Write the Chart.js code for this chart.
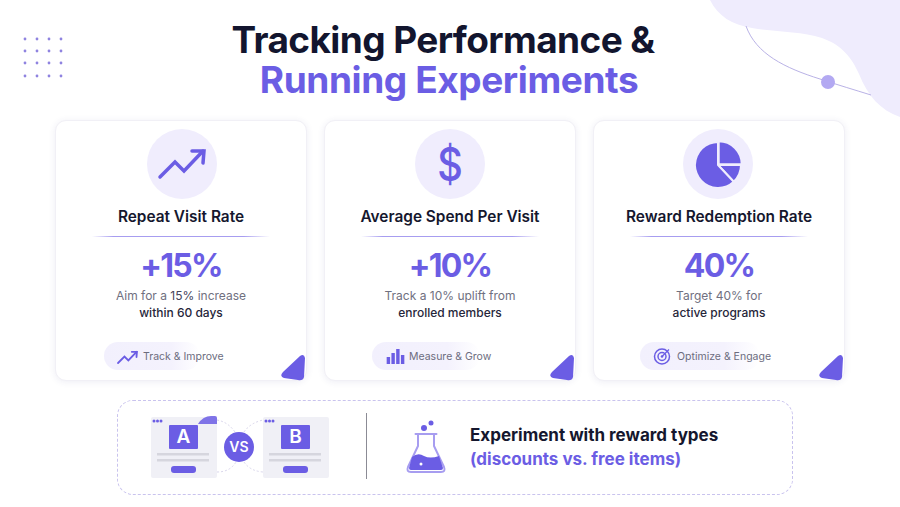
<!DOCTYPE html>
<html>
<head>
<meta charset="utf-8">
<title>Tracking Performance & Running Experiments</title>
<script src="https://cdn.jsdelivr.net/npm/chart.js@4"></script>
<style>
  html, body { margin: 0; padding: 0; background: #fff; }
  #page { position: relative; width: 900px; height: 507px; overflow: hidden; font-family: Inter, sans-serif; background: #fff; }
  #page > * { position: absolute; }
  #art { left: 0; top: 0; z-index: 1; }
  .heading { width: 888px; text-align: center; font-weight: 700; font-size: 37px; line-height: 34px; white-space: nowrap; }
  .card { width: 250px; height: 259px; top: 120px; border: 1px solid #f1f0f6; border-radius: 11px; box-shadow: 0 1px 7px rgba(60, 50, 130, 0.09); background: #fff; }
  .bubble { width: 70px; height: 70px; top: 129px; border-radius: 50%; background: #f0edfd; }
  .metric { width: 252px; text-align: center; white-space: nowrap; }
  .metric-title { top: 207px; font-size: 15.4px; line-height: 20px; font-weight: 600; color: #15172e; }
  .metric-rule { top: 236px; height: 1px; width: 178px; background: linear-gradient(90deg, #ffffff, #a79df0 12%, #a79df0 85%, #ffffff); }
  .metric-value { top: 246px; font-size: 32px; line-height: 40px; font-weight: 700; letter-spacing: -1.8px; color: #6b5de4; }
  .metric-note { font-size: 12px; line-height: 16px; color: #70707f; }
  .metric-note b { font-weight: 500; color: #26263a; }
  .metric-note i { font-style: normal; color: #45455a; }
  .pill { top: 342px; height: 28px; border-radius: 14px; background: linear-gradient(90deg, #f2f0fd, #f4f2fd 70%, #ffffff); }
  .pill-text { top: 350px; font-size: 10.5px; line-height: 14px; color: #6c6c7e; white-space: nowrap; }
  .dollar { top: 136px; width: 70px; text-align: center; font-size: 46px; line-height: 56px; font-weight: 500; color: #6b5de4; transform: scaleX(0.86); }
  .panel { left: 117px; top: 400px; width: 674px; height: 93px; border: 1px dashed #c9c3ee; border-radius: 16px; }
  .ab { font-weight: 600; color: #fff; text-align: center; z-index: 2; }
  .callout { left: 470px; font-size: 17px; line-height: 24px; font-weight: 700; white-space: nowrap; }
</style>
</head>
<body>
<div id="page">
  <div class="heading" style="left: -1px; top: 23px; letter-spacing: -0.6px; color: #12152e;">Tracking Performance &amp;</div>
  <div class="heading" style="left: 5px; top: 63px; letter-spacing: -0.4px; color: #6b5de4;">Running Experiments</div>
  <div class="panel"></div>
  <svg id="art" width="900" height="507"></svg>
  <div class="ab" style="left:169px;top:425px;width:29px;font-size:19px;line-height:24px;">A</div>
  <div class="ab" style="left:281px;top:425px;width:29px;font-size:19px;line-height:24px;">B</div>
  <div class="ab" style="left:224px;top:438px;width:30px;font-size:14px;line-height:18px;">VS</div>
  <div class="callout" style="top: 423px; color: #15172e;">Experiment with reward types</div>
  <div class="callout" style="top: 447px; color: #6b5de4;">(discounts vs. free items)</div>
</div>

<script>
'use strict';

// ************ DATA

const metricTitles = ['Repeat Visit Rate', 'Average Spend Per Visit', 'Reward Redemption Rate'];
const metricValues = ['+15%', '+10%', '40%'];
const noteFirstLines = ['Aim for a <i>15%</i> increase', 'Track a 10% uplift from', 'Target 40% for'];
const noteSecondLines = ['within 60 days', 'enrolled members', 'active programs'];
const pillLabels = ['Track & Improve', 'Measure & Grow', 'Optimize & Engage'];

// trend icon: zigzag line and its arrow head
const trendX = [0, 15, 24, 43];
const trendY = [0, 15, 6, 26];
const arrowX = [32, 44, 43];
const arrowY = [26, 26, 14];

// bar icon
const barLabels = ['a', 'b', 'c', 'd'];
const barValues = [7, 11, 15, 9];

// pie icon
const pieLabels = ['top right', 'lower right', 'rest'];
const pieValues = [25, 13, 62];

// ************ COLOURS AND LAYOUT

const purple = '#6b5de4';
const cardLeft = [55, 324, 593];
const bubbleLeft = [147, 415, 683];
const page = document.getElementById('page');
const art = document.getElementById('art');

function addDiv(className, left, top, html) {
  let div = document.createElement('div');
  div.className = className;
  div.style.left = left + 'px';
  if (top !== null) {
    div.style.top = top + 'px';
  }
  div.innerHTML = html;
  page.appendChild(div);
  return div;
}

function addCanvas(left, top, width, height) {
  let canvas = document.createElement('canvas');
  canvas.width = width;
  canvas.height = height;
  canvas.style.left = left + 'px';
  canvas.style.top = top + 'px';
  canvas.style.width = width + 'px';
  canvas.style.height = height + 'px';
  canvas.style.zIndex = 2;
  page.appendChild(canvas);
  return canvas;
}

function toPoints(xs, ys) {
  return xs.map((x, i) => ({ x: x, y: ys[i] }));
}

// options shared by all icon charts: no axes, no legend, no motion
function iconOptions(scales) {
  return {
    responsive: false,
    animation: false,
    events: [],
    layout: { padding: 0 },
    plugins: { legend: { display: false }, tooltip: { enabled: false } },
    scales: scales
  };
}

function drawTrend(left, top, size, range, width) {
  new Chart(addCanvas(left, top, size, size), {
    type: 'scatter',
    data: {
      datasets: [
        { data: toPoints(trendX, trendY) },
        { data: toPoints(arrowX, arrowY) }
      ].map((set) => ({
        ...set,
        showLine: true,
        borderColor: purple,
        borderWidth: width,
        borderCapStyle: 'round',
        borderJoinStyle: 'miter',
        pointRadius: 0,
        clip: false
      }))
    },
    options: iconOptions({
      x: { display: false, min: range[0], max: range[1] },
      y: { display: false, min: range[2], max: range[3] }
    })
  });
}

// ************ CARDS

for (let i = 0; i < metricTitles.length; i++) {
  let left = cardLeft[i];
  addDiv('card', left, null, '');
  addDiv('bubble', bubbleLeft[i], null, '');
  addDiv('metric metric-title', left, null, metricTitles[i]);
  addDiv('metric-rule', left + 37, null, '');
  addDiv('metric metric-value', left, null, metricValues[i]);
  addDiv('metric metric-note', left, 288, noteFirstLines[i]);
  addDiv('metric metric-note', left, 305, '<b>' + noteSecondLines[i] + '</b>');
}

addDiv('pill', 104, null, '').style.width = '96px';
addDiv('pill', 372, null, '').style.width = '108px';
addDiv('pill', 640, null, '').style.width = '120px';
addDiv('pill-text', 143, null, pillLabels[0].replace('&', '&amp;'));
addDiv('pill-text', 409, null, pillLabels[1].replace('&', '&amp;'));
addDiv('pill-text', 677, null, pillLabels[2].replace('&', '&amp;'));
addDiv('dollar', 415, null, '$');

// ************ DECORATION (shapes, not data)

let shapes = '';

// blob and thin curve in the top right corner
shapes += '<path d="M710 0 C718 16 732 25 752 28 C775 32 800 31 822 38 C842 45 852 58 859 74 C868 96 880 110 900 117 L900 0 Z" fill="#efecfd"/>';
shapes += '<path d="M746 26 C756 54 785 68 820 79 C838 85 855 90 871 95" fill="none" stroke="#b9b2e6" stroke-width="1"/>';
shapes += '<circle cx="828" cy="82" r="7" fill="#b3a9f2"/>';

// dot grid top left
[25, 37, 49, 61].forEach((x) => {
  [39, 51, 63, 76].forEach((y) => {
    shapes += `<circle cx="${x}" cy="${y}" r="1.4" fill="#8f83e0"/>`;
  });
});

// folded corners on the cards
cardLeft.forEach((left) => {
  let d = left - 55;
  shapes += `<path d="M${283 + d} 372 L${300 + d} 356 Q${304 + d} 353 ${305 + d} 358 L${304 + d} 377 Q${303 + d} 381 ${298 + d} 380 L${284 + d} 378 Q${279 + d} 376 ${283 + d} 372 Z" fill="${purple}"/>`;
});

// target icon in the third pill
shapes += `<circle cx="662" cy="356.500" r="7.500" fill="none" stroke="${purple}" stroke-width="1.500"/>`;
shapes += `<circle cx="662" cy="356.500" r="4" fill="none" stroke="${purple}" stroke-width="1.500"/>`;
shapes += `<circle cx="662" cy="356.500" r="1.300" fill="${purple}"/>`;
shapes += `<path d="M662 356.500 L669 349.500" stroke="${purple}" stroke-width="1.300"/>`;

// A and B windows
shapes += '<g fill="none" stroke="#cfcbe6" stroke-width="0.800" stroke-dasharray="2 2">';
shapes += '<path d="M217 420 Q228 422 235 432"/><path d="M244 432 Q250 423 263 420"/>';
shapes += '<path d="M217 472 Q230 472 236 462"/><path d="M244 462 Q250 471 263 472"/></g>';
[151, 263].forEach((x, i) => {
  shapes += `<rect x="${x}" y="417" width="66" height="61" rx="2" fill="#f0f0f6"/>`;
  shapes += `<rect x="${x + 18}" y="425" width="29" height="24" rx="1" fill="${purple}"/>`;
  shapes += `<rect x="${x + 6}" y="453" width="52" height="2.500" fill="#d6d6de"/>`;
  shapes += `<rect x="${x + 6}" y="459" width="52" height="2.500" fill="#d6d6de"/>`;
  shapes += `<rect x="${x + 20}" y="466" width="25" height="7" rx="3" fill="${purple}"/>`;
  [3, 6.500, 10].forEach((dx) => {
    shapes += `<circle cx="${x + dx}" cy="421" r="1.500" fill="${purple}"/>`;
  });
  if (i === 0) {
    shapes += `<path d="M198 424 Q203 416 211 416 L215 416 Q217 416 217 418 L217 424 Z" fill="${purple}" opacity="0.85"/>`;
  }
});
shapes += `<circle cx="239" cy="447" r="15" fill="${purple}"/>`;

// divider and flask
shapes += '<rect x="366" y="413" width="1" height="66" fill="#8b8b95"/>';
shapes += `<path d="M418 434 L418 446 L408 467 Q406 472 411 472 L441 472 Q446 472 444 467 L434 446 L434 434" fill="#fff" stroke="#a79df0" stroke-width="2"/>`;
shapes += '<path d="M415.500 434 L436.500 434" stroke="#a79df0" stroke-width="2" stroke-linecap="round"/>';
shapes += `<path d="M412 457 Q418 452 424 456 Q430 459 439 456 L443 468 Q443 470 441 470 L411 470 Q409 470 409 468 Z" fill="${purple}"/>`;
shapes += '<circle cx="421" cy="464" r="1.500" fill="#fff"/>';
shapes += `<circle cx="424" cy="428" r="3" fill="${purple}"/><circle cx="431" cy="423" r="2.500" fill="${purple}"/>`;

art.innerHTML = shapes;

// ************ ICON CHARTS

// big and small trend icons
drawTrend(147, 129, 70, [-13, 57, -22, 48], 3.500);
drawTrend(112, 340, 28, [-14, 51.100, -11.600, 53.500], 1.800);

// bars in the second pill
new Chart(addCanvas(386, 345, 19, 19), {
  type: 'bar',
  data: {
    labels: barLabels,
    datasets: [{ data: barValues, backgroundColor: purple, barPercentage: 0.72, categoryPercentage: 1 }]
  },
  options: iconOptions({
    x: { display: false },
    y: { display: false, min: 0, max: 19 }
  })
});

// pie in the third card
new Chart(addCanvas(690, 137, 56, 56), {
  type: 'pie',
  data: {
    labels: pieLabels,
    datasets: [{
      data: pieValues,
      backgroundColor: purple,
      borderColor: '#f0edfd',
      borderWidth: 2,
      offset: [4, 0, 0]
    }]
  },
  options: { ...iconOptions({}), radius: 23 }
});
</script>
</body>
</html>
